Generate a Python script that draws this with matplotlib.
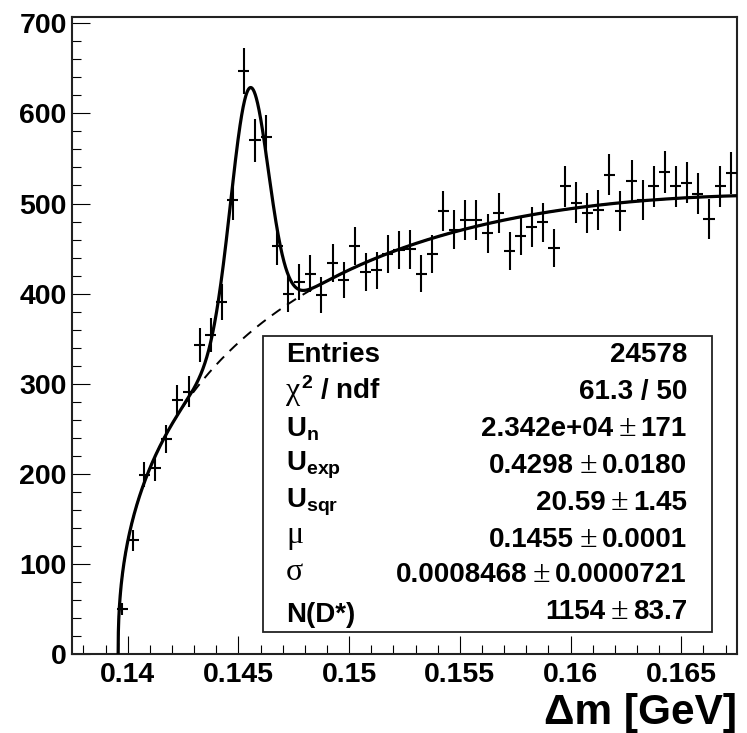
import numpy as np
import matplotlib
matplotlib.use("Agg")
import matplotlib.pyplot as plt
from matplotlib.ticker import MultipleLocator, FormatStrFormatter
from matplotlib.patches import Rectangle

W, H = 747, 733

# histogram: delta m bins of 0.5 MeV starting at 0.1395 GeV
bin_lo = 0.1395
bin_width = 0.0005
counts = [50, 126, 199, 206, 239, 282, 291, 343, 354, 391,
          504, 647, 570, 574, 453, 400, 413, 422, 398, 434,
          415, 453, 424, 426, 444, 448, 449, 422, 444, 492,
          471, 482, 482, 467, 489, 447, 464, 474, 479, 451,
          519, 501, 489, 493, 532, 492, 525, 504, 519, 535,
          519, 523, 511, 483, 519, 534]

# fit results (gaussian signal on threshold background)
m_pi = 0.13957
mu = 0.1455
sigma = 0.0008468
n_dstar = 1154
bkg_exp = 0.4298
bkg_slope = 14.1      # estimated from the drawn background
bkg_norm = 3510.0     # estimated from the drawn background

x_range = (0.1375, 0.1675)
y_range = (0, 707)

stat_left = [
    [("Entries", "sans")],
    [("\u03c7", "sym"), ("$^{2}$ / ndf", "sans")],
    [("$U_{n}$", "sans")],
    [("$U_{exp}$", "sans")],
    [("$U_{sqr}$", "sans")],
    [("\u03bc", "sym")],
    [("\u03c3", "sym")],
    [("N(D*)", "sans")],
]
stat_right = [
    ["24578"],
    ["61.3 / 50"],
    ["2.342e+04", "171"],
    ["0.4298", "0.0180"],
    ["20.59", "1.45"],
    ["0.1455", "0.0001"],
    ["0.0008468", "0.0000721"],
    ["1154", "83.7"],
]

plt.rcParams["font.family"] = "Liberation Sans"
plt.rcParams["font.weight"] = "bold"
plt.rcParams["mathtext.default"] = "regular"

SANS = dict(family="Liberation Sans", weight="bold", size=20)
SYM = dict(family="Liberation Serif", weight="normal", size=23)
STYLE = {"sans": SANS, "sym": SYM}


def background(x):
    dx = np.clip(x - m_pi, 0, None)
    return bkg_norm * dx ** bkg_exp * np.exp(-bkg_slope * dx)


def total(x):
    peak = n_dstar * bin_width / (sigma * np.sqrt(2 * np.pi))
    return background(x) + peak * np.exp(-0.5 * ((x - mu) / sigma) ** 2)


fig = plt.figure(figsize=(W / 100, H / 100), dpi=100)
ax = fig.add_axes([72.3 / W, 1 - 654 / H, (736.7 - 72.3) / W, (654 - 17) / H])

centers = bin_lo + bin_width * (np.arange(len(counts)) + 0.5)
counts = np.array(counts, dtype=float)
ax.errorbar(centers, counts, yerr=np.sqrt(counts), xerr=bin_width / 2,
            fmt="none", ecolor="black", elinewidth=1.5, capsize=0, zorder=3)

xs = np.linspace(m_pi, x_range[1], 3000)
ax.plot(xs, background(xs), color="black", lw=1.4, ls=(0, (5.5, 4)), zorder=2)
ax.plot(xs, total(xs), color="black", lw=2.3, zorder=4)

ax.set_xlim(*x_range)
ax.set_ylim(*y_range)
ax.xaxis.set_major_locator(MultipleLocator(0.005))
ax.xaxis.set_minor_locator(MultipleLocator(0.001))
ax.yaxis.set_major_locator(MultipleLocator(100))
ax.yaxis.set_minor_locator(MultipleLocator(20))
ax.xaxis.set_major_formatter(FormatStrFormatter("%g"))
ax.yaxis.set_major_formatter(FormatStrFormatter("%d"))
ax.tick_params(which="both", direction="in", top=False, right=False,
               width=0.8, labelsize=20.5)
ax.tick_params(which="major", length=13)
ax.tick_params(which="minor", length=6.5)
ax.tick_params(axis="x", pad=6)
ax.tick_params(axis="y", pad=4)
for s in ax.spines.values():
    s.set_linewidth(1.5)
    s.set_color("#222222")

fig.text(737 / W, 1 - 724 / H, "\u0394m [GeV]", ha="right", va="baseline",
         family="Liberation Sans", weight="bold", size=30.5)

# stats box
box = Rectangle((263 / W, 1 - 632 / H), (712 - 263) / W, (632 - 336) / H,
                transform=fig.transFigure, facecolor="white",
                edgecolor="#222222", lw=1.3, zorder=5)
fig.add_artist(box)

renderer = fig.canvas.get_renderer()
left_base = [361.7, 399, 436.5, 470.5, 507, 543, 580.5, 621.5]
right_base = [361.7, 399, 436, 472.7, 510, 546.7, 581.7, 619.3]

for row, base in zip(stat_left, left_base):
    x = 286
    for txt, st in row:
        t = fig.text(x / W, 1 - base / H, txt, ha="left", va="baseline",
                     zorder=6, **STYLE[st])
        x += t.get_window_extent(renderer).width + 1

for row, base in zip(stat_right, right_base):
    x = 687
    pieces = [(row[0], "sans")] if len(row) == 1 else \
        [(row[0], "sans"), ("\u00b1", "sym"), (row[1], "sans")]
    for txt, st in reversed(pieces):
        t = fig.text(x / W, 1 - base / H, txt, ha="right", va="baseline",
                     zorder=6, **STYLE[st])
        x -= t.get_window_extent(renderer).width + 5

fig.savefig("out.png", dpi=100)
